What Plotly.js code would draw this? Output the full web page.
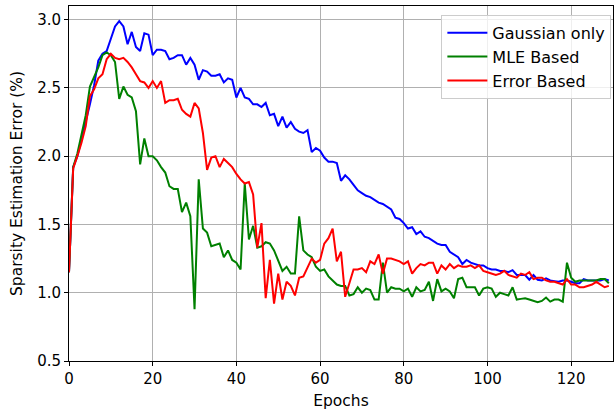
<!DOCTYPE html>
<html>
<head>
<meta charset="utf-8">
<script src="https://cdn.plot.ly/plotly-3.0.1.min.js"></script>
<style>html,body{margin:0;padding:0;background:#fff;}#chart{width:615px;height:410px;}</style>
</head>
<body>
<div id="chart"></div>
<script>
const epochs = Array.from({length: 130}, (_, i) => i);

const gaussianOnly = [
1.15,1.92,2.00,2.12,2.24,2.38,2.52,2.70,2.75,2.77,
2.86,2.95,2.99,2.95,2.82,2.91,2.80,2.77,2.90,2.89,
2.74,2.78,2.78,2.77,2.71,2.72,2.74,2.74,2.67,2.72,
2.67,2.56,2.63,2.62,2.59,2.59,2.60,2.54,2.57,2.56,
2.43,2.50,2.43,2.42,2.38,2.38,2.36,2.39,2.30,2.31,
2.22,2.29,2.21,2.25,2.20,2.18,2.17,2.19,2.03,2.06,
2.04,1.99,1.96,1.96,1.95,1.82,1.86,1.83,1.79,1.75,
1.73,1.71,1.70,1.68,1.66,1.65,1.63,1.61,1.55,1.54,
1.51,1.47,1.48,1.43,1.45,1.41,1.40,1.38,1.36,1.35,
1.35,1.30,1.28,1.26,1.21,1.24,1.22,1.21,1.20,1.20,
1.18,1.17,1.17,1.16,1.16,1.15,1.165,1.13,1.13,1.13,
1.095,1.13,1.095,1.09,1.105,1.09,1.085,1.08,1.09,1.09,
1.08,1.07,1.07,1.10,1.09,1.09,1.09,1.09,1.10,1.09];

const mleBased = [
1.15,1.92,2.02,2.15,2.30,2.51,2.58,2.65,2.74,2.76,
2.74,2.69,2.42,2.51,2.45,2.43,2.33,1.94,2.13,2.00,
2.00,1.97,1.92,1.88,1.78,1.76,1.76,1.59,1.66,1.56,
0.88,1.83,1.47,1.44,1.34,1.35,1.36,1.26,1.31,1.24,
1.22,1.17,1.80,1.39,1.49,1.33,1.34,1.37,1.36,1.31,
1.23,1.16,1.19,1.14,1.14,1.56,1.31,1.28,1.26,1.19,
1.16,1.17,1.12,1.09,1.06,1.05,1.05,0.98,0.99,1.04,
1.00,1.03,1.02,0.95,0.95,1.22,1.00,1.04,1.03,1.03,
1.01,1.03,0.97,1.04,1.01,1.02,1.08,0.94,1.10,1.01,
1.03,1.01,0.96,1.10,1.11,1.04,1.04,1.04,0.98,1.03,
1.04,1.03,0.97,1.00,0.99,0.98,1.04,0.95,0.955,0.96,
0.95,0.94,0.93,0.94,0.965,0.935,0.95,0.95,0.935,1.22,
1.11,1.08,1.09,1.09,1.09,1.09,1.09,1.10,1.10,1.07];

const errorBased = [
1.15,1.91,2.00,2.10,2.22,2.44,2.49,2.57,2.60,2.71,
2.75,2.72,2.71,2.72,2.69,2.65,2.60,2.55,2.54,2.50,
2.55,2.50,2.55,2.39,2.41,2.41,2.42,2.34,2.31,2.29,
2.39,2.35,2.17,1.90,1.99,2.00,1.92,1.98,1.95,1.92,
1.87,1.83,1.80,1.81,1.72,1.33,1.51,0.96,1.24,0.92,
1.14,0.95,1.08,1.05,0.98,1.11,1.12,1.18,1.25,1.22,
1.24,1.36,1.40,1.47,1.23,1.30,0.97,1.07,1.17,1.17,
1.18,1.15,1.23,1.21,1.28,1.14,1.25,1.25,1.24,1.23,
1.21,1.23,1.14,1.18,1.21,1.20,1.22,1.22,1.14,1.20,
1.17,1.21,1.18,1.20,1.19,1.19,1.20,1.18,1.20,1.16,
1.15,1.14,1.13,1.14,1.16,1.13,1.12,1.11,1.14,1.13,
1.15,1.10,1.11,1.11,1.09,1.08,1.08,1.07,1.06,1.10,
1.06,1.06,1.04,1.04,1.05,1.06,1.08,1.06,1.04,1.05];

const seriesNames = ["Gaussian only", "MLE Based", "Error Based"];
const seriesColors = ["#0000ff", "#008000", "#ff0000"];
const seriesData = [gaussianOnly, mleBased, errorBased];

const font = "DejaVu Sans, sans-serif";

const traces = seriesData.map((ys, i) => ({
  x: epochs, y: ys, type: "scatter", mode: "lines",
  name: seriesNames[i],
  line: {color: seriesColors[i], width: 2}
}));

const axisCommon = {
  showline: true, mirror: true, linecolor: "#000", linewidth: 1,
  ticks: "outside", ticklen: 4, tickcolor: "#000", tickwidth: 1,
  showgrid: true, gridcolor: "#b0b0b0", gridwidth: 1,
  zeroline: false,
  tickfont: {family: font, size: 15, color: "#000"}
};

const layout = {
  width: 615, height: 410,
  margin: {l: 69, r: 2, t: 6, b: 49},
  paper_bgcolor: "#fff", plot_bgcolor: "#fff",
  font: {family: font, size: 15, color: "#000"},
  xaxis: Object.assign({}, axisCommon, {
    range: [0, 130], tick0: 0, dtick: 20,
    title: {text: "Epochs", font: {family: font, size: 15.5}, standoff: 10}
  }),
  yaxis: Object.assign({}, axisCommon, {
    range: [0.5, 3.1], tick0: 0.5, dtick: 0.5, tickformat: ".1f",
    title: {text: "Sparsity Estimation Error (%)", font: {family: font, size: 15.5}, standoff: 10}
  }),
  legend: {
    x: 0.997, y: 0.975, xanchor: "right", yanchor: "top",
    bgcolor: "rgba(255,255,255,0.8)", bordercolor: "#cccccc", borderwidth: 1,
    font: {family: font, size: 16}, itemwidth: 40
  },
  showlegend: true
};

Plotly.newPlot("chart", traces, layout, {displayModeBar: false, staticPlot: true});
</script>
</body>
</html>
